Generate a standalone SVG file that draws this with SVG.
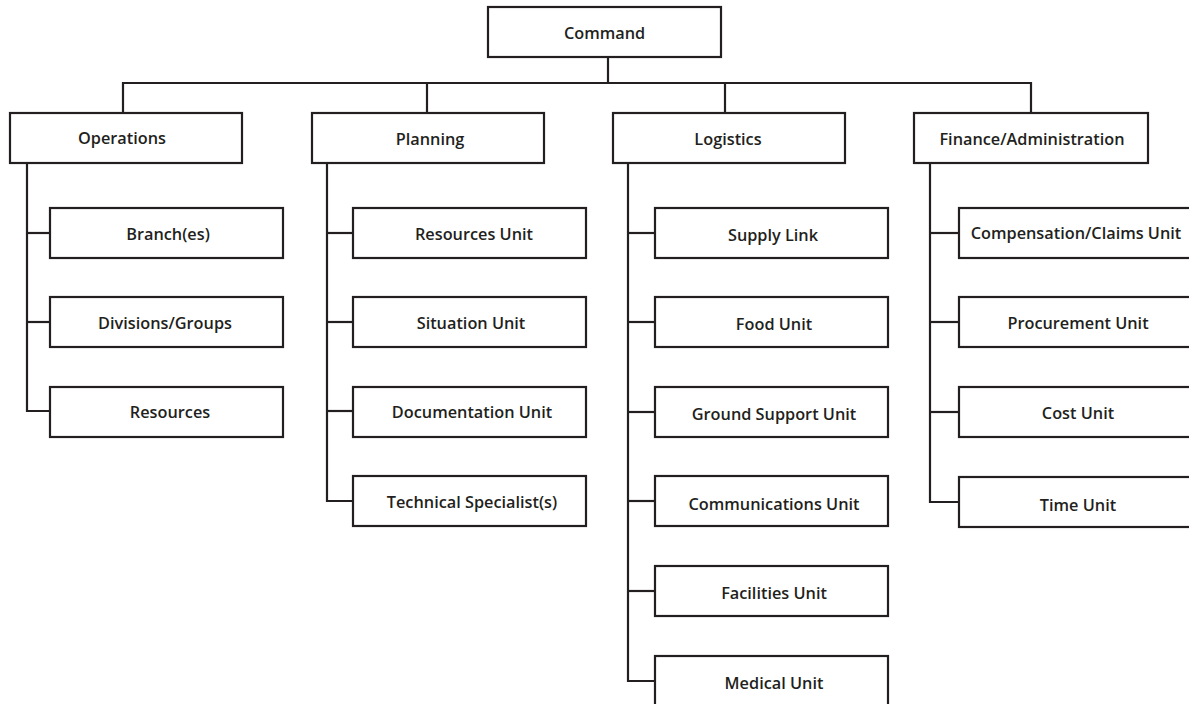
<svg xmlns="http://www.w3.org/2000/svg" width="1189" height="704" viewBox="0 0 1189 704">
  <style>
    .box { fill: #ffffff; stroke: #231f20; stroke-width: 2.2; }
    .lbl { font-family: "Open Sans", "Noto Sans", sans-serif; font-size: 16.3px; font-weight: 600; fill: #231f20; text-anchor: middle; dominant-baseline: central; }
    .wire { fill: none; stroke: #231f20; stroke-width: 2.2; }
  </style>
  <rect width="1189" height="704" fill="#ffffff"/>

  <!-- connectors -->
  <g id="connectors" class="wire">
    <path d="M608 57 V83"/>
    <path d="M123 113 V83 H1031 V113"/>
    <path d="M427 83 V113"/>
    <path d="M725 83 V113"/>
    <!-- Operations branch -->
    <path d="M27 163 V411 H50"/>
    <path d="M27 233 H50"/>
    <path d="M27 322 H50"/>
    <!-- Planning branch -->
    <path d="M327 163 V501 H353"/>
    <path d="M327 233 H353"/>
    <path d="M327 322 H353"/>
    <path d="M327 411 H353"/>
    <!-- Logistics branch -->
    <path d="M628 163 V681 H655"/>
    <path d="M628 233 H655"/>
    <path d="M628 322 H655"/>
    <path d="M628 412 H655"/>
    <path d="M628 501 H655"/>
    <path d="M628 591 H655"/>
    <!-- Finance/Administration branch -->
    <path d="M930 163 V502 H959"/>
    <path d="M930 233 H959"/>
    <path d="M930 322 H959"/>
    <path d="M930 412 H959"/>
  </g>

  <g id="command"><rect class="box" x="488" y="7" width="233" height="50"/><text class="lbl" x="604.5" y="33">Command</text></g>

  <g id="operations"><rect class="box" x="10" y="113" width="232" height="50"/><text class="lbl" x="122" y="138">Operations</text></g>
  <g id="planning"><rect class="box" x="312" y="113" width="232" height="50"/><text class="lbl" x="430" y="139">Planning</text></g>
  <g id="logistics"><rect class="box" x="613" y="113" width="232" height="50"/><text class="lbl" x="728" y="139">Logistics</text></g>
  <g id="finance"><rect class="box" x="914" y="113" width="234" height="50"/><text class="lbl" x="1032" y="139">Finance/Administration</text></g>

  <g id="branches"><rect class="box" x="50" y="208" width="233" height="50"/><text class="lbl" x="168" y="234">Branch(es)</text></g>
  <g id="divisions"><rect class="box" x="50" y="297" width="233" height="50"/><text class="lbl" x="165" y="323">Divisions/Groups</text></g>
  <g id="resources"><rect class="box" x="50" y="387" width="233" height="50"/><text class="lbl" x="170" y="412">Resources</text></g>

  <g id="resources-unit"><rect class="box" x="353" y="208" width="233" height="50"/><text class="lbl" x="474" y="234">Resources Unit</text></g>
  <g id="situation-unit"><rect class="box" x="353" y="297" width="233" height="50"/><text class="lbl" x="471" y="323">Situation Unit</text></g>
  <g id="documentation-unit"><rect class="box" x="353" y="387" width="233" height="50"/><text class="lbl" x="472" y="412">Documentation Unit</text></g>
  <g id="technical-specialists"><rect class="box" x="353" y="476" width="233" height="50"/><text class="lbl" x="472" y="502">Technical Specialist(s)</text></g>

  <g id="supply-link"><rect class="box" x="655" y="208" width="233" height="50"/><text class="lbl" x="773" y="235">Supply Link</text></g>
  <g id="food-unit"><rect class="box" x="655" y="297" width="233" height="50"/><text class="lbl" x="774" y="324">Food Unit</text></g>
  <g id="ground-support-unit"><rect class="box" x="655" y="387" width="233" height="50"/><text class="lbl" x="774" y="414">Ground Support Unit</text></g>
  <g id="communications-unit"><rect class="box" x="655" y="476" width="233" height="50"/><text class="lbl" x="774" y="504">Communications Unit</text></g>
  <g id="facilities-unit"><rect class="box" x="655" y="566" width="233" height="50"/><text class="lbl" x="774" y="593">Facilities Unit</text></g>
  <g id="medical-unit"><rect class="box" x="655" y="656" width="233" height="50"/><text class="lbl" x="774" y="683">Medical Unit</text></g>

  <g id="compensation-claims-unit"><rect class="box" x="959" y="208" width="233" height="50"/><text class="lbl" x="1076" y="233">Compensation/Claims Unit</text></g>
  <g id="procurement-unit"><rect class="box" x="959" y="297" width="233" height="50"/><text class="lbl" x="1078" y="323">Procurement Unit</text></g>
  <g id="cost-unit"><rect class="box" x="959" y="387" width="233" height="50"/><text class="lbl" x="1078" y="413">Cost Unit</text></g>
  <g id="time-unit"><rect class="box" x="959" y="477" width="233" height="50"/><text class="lbl" x="1078" y="505">Time Unit</text></g>
</svg>
